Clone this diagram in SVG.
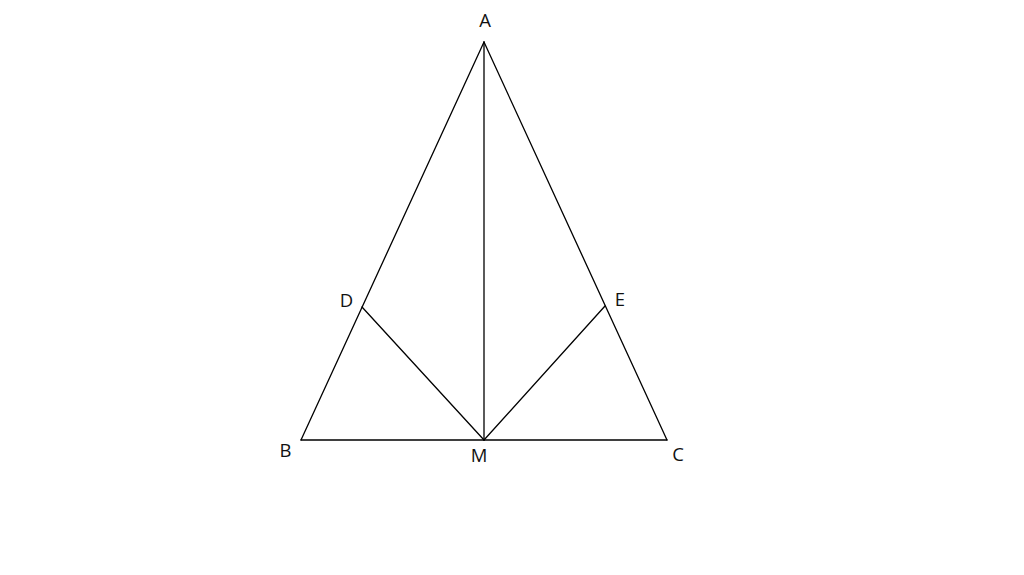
<svg xmlns="http://www.w3.org/2000/svg" width="1024" height="575" viewBox="0 0 1024 575">
<style>
.l{stroke:#000;stroke-width:1.3;fill:none;stroke-linecap:round}
.t{font-family:"Open Sans","Liberation Sans",Arial,sans-serif;font-size:18.5px;fill:#111;text-anchor:middle}
</style>
<rect width="1024" height="575" fill="#fff"/>
<g id="connectors">
<line class="l" x1="484" y1="42" x2="301" y2="440"/>
<line class="l" x1="484" y1="42" x2="667" y2="440"/>
<line class="l" x1="301" y1="440" x2="667" y2="440"/>
<line class="l" x1="484" y1="42" x2="484" y2="440"/>
<line class="l" x1="362" y1="307" x2="484" y2="440"/>
<line class="l" x1="605" y1="306" x2="484" y2="440"/>
</g>
<g id="A"><text class="t" x="485" y="27">A</text></g>
<g id="B"><text class="t" x="285.5" y="457">B</text></g>
<g id="C"><text class="t" x="678" y="461">C</text></g>
<g id="M"><text class="t" x="479" y="462">M</text></g>
<g id="D"><text class="t" x="346.5" y="307">D</text></g>
<g id="E"><text class="t" x="620" y="306">E</text></g>
</svg>
